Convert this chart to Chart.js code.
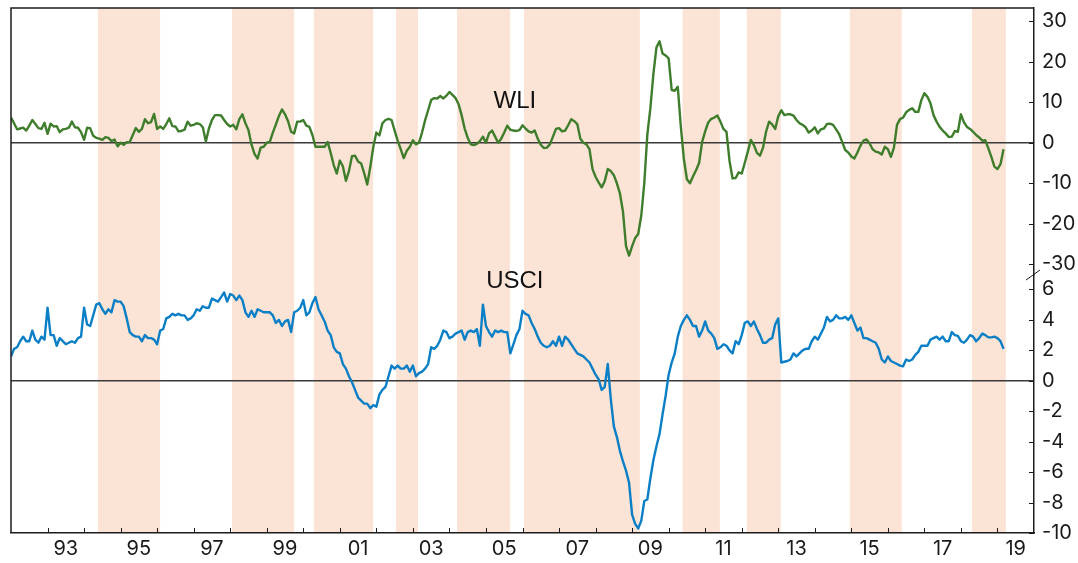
<!DOCTYPE html>
<html>
<head>
<meta charset="utf-8">
<title>WLI and USCI</title>
<script src="https://cdn.jsdelivr.net/npm/chart.js@4/dist/chart.umd.min.js"></script>
<style>
  html, body { margin: 0; padding: 0; background: #fff; }
  #wrap { width: 1078px; height: 563px; }
</style>
</head>
<body>
<div id="wrap"><canvas id="chart" width="1078" height="563"></canvas></div>
<script>
// monthly series, first value = Jan 1992
const startYear = 1992;

const wliValues = [
  6.2, 4.8, 3.3, 3.5, 3.7, 3.0, 4.2, 5.6, 4.6, 3.6, 3.4, 4.9,          // 1992
  2.2, 4.7, 4.0, 4.1, 2.6, 3.3, 3.4, 3.7, 5.2, 3.8, 3.7, 2.6,          // 1993
  0.7, 3.7, 3.6, 1.7, 1.2, 1.0, 0.7, 1.4, 1.2, 0.4, 0.8, -0.9,         // 1994
  0.0, -0.5, 0.1, 0.2, 1.9, 3.6, 2.7, 3.4, 5.8, 4.8, 5.1, 7.1,         // 1995
  3.4, 4.0, 3.4, 4.6, 6.0, 4.1, 4.0, 2.8, 2.9, 3.2, 5.2, 4.2,          // 1996
  4.4, 4.8, 4.6, 3.8, 0.3, 3.5, 5.6, 6.8, 6.8, 6.7, 5.6, 4.6,          // 1997
  4.0, 4.4, 3.3, 5.8, 7.0, 4.8, 3.1, -0.5, -2.8, -3.9, -1.2, -1.0,     // 1998
  0.0, 0.2, 2.5, 4.5, 6.6, 8.2, 7.0, 5.3, 2.7, 2.3, 5.2, 5.2,          // 1999
  5.6, 4.2, 3.9, 1.9, -1.0, -1.0, -1.0, -1.0, 0.2, -2.5, -5.5, -7.6,   // 2000
  -4.4, -5.8, -9.4, -7.0, -3.3, -3.2, -4.6, -5.1, -7.5, -10.3, -6.0, -1.0, // 2001
  2.5, 1.8, 4.8, 5.6, 5.9, 5.6, 3.0, 0.5, -1.6, -3.8, -2.0, -1.0,      // 2002
  0.6, -0.4, 0.0, 2.5, 5.5, 8.0, 10.5, 11.0, 10.9, 11.5, 10.9, 11.6,   // 2003
  12.5, 11.8, 11.0, 9.5, 6.8, 3.5, 1.2, -0.4, -0.6, -0.3, 0.4, 1.5,    // 2004
  0.0, 2.3, 3.0, 1.5, 0.0, 1.0, 2.5, 4.2, 3.2, 3.0, 2.9, 3.1,          // 2005
  4.3, 3.5, 2.8, 2.5, 3.0, 1.0, -0.5, -1.3, -1.2, -0.4, 1.5, 3.4,      // 2006
  3.6, 2.8, 3.0, 4.3, 5.8, 5.3, 4.6, 1.0, 0.0, -0.4, -1.6, -6.5,       // 2007
  -8.4, -9.8, -11.0, -9.5, -6.5, -7.0, -8.0, -10.0, -12.5, -17.0, -25.5, -27.8, // 2008
  -25.5, -23.5, -22.5, -18.0, -10.0, 2.0, 8.5, 17.0, 23.5, 25.0, 22.0, 21.5,    // 2009
  20.8, 13.0, 12.8, 13.8, 4.0, -4.0, -9.0, -10.0, -8.3, -6.8, -5.0, 0.2,        // 2010
  2.8, 5.0, 5.9, 6.2, 6.7, 5.2, 3.4, 2.7, -4.5, -8.8, -8.7, -7.3,      // 2011
  -7.6, -5.0, -2.2, 0.7, -0.6, -2.5, -3.2, -1.2, 2.7, 5.2, 4.5, 3.4,   // 2012
  6.5, 8.0, 6.8, 7.0, 7.0, 6.7, 5.6, 4.8, 4.4, 3.8, 2.5, 3.0,          // 2013
  3.8, 2.3, 3.3, 3.5, 4.6, 4.7, 4.4, 3.3, 2.1, 0.2, -1.8, -2.4,        // 2014
  -3.4, -3.9, -2.4, -0.7, 0.5, 0.8, -0.2, -1.6, -2.2, -2.4, -2.9, -1.0, // 2015
  -1.6, -3.5, -1.2, 4.4, 5.8, 6.2, 7.5, 8.1, 8.5, 7.6, 7.6, 10.5,      // 2016
  12.2, 11.3, 9.7, 6.8, 5.2, 3.9, 3.0, 2.3, 1.4, 1.5, 2.9, 2.7,        // 2017
  7.0, 5.0, 3.9, 3.4, 2.7, 1.9, 1.3, 0.5, 0.6, -1.4, -3.5, -5.9,       // 2018
  -6.5, -5.3, -1.6                                                     // 2019
];

const usciValues = [
  1.6, 2.1, 2.2, 2.6, 2.9, 2.6, 2.6, 3.3, 2.7, 2.5, 2.9, 2.7,          // 1992
  4.8, 3.0, 3.0, 2.3, 2.8, 2.6, 2.4, 2.5, 2.6, 2.5, 2.8, 2.9,          // 1993
  4.8, 3.7, 3.6, 4.3, 5.0, 5.1, 4.7, 4.4, 4.7, 4.5, 5.3, 5.2,          // 1994
  5.2, 4.9, 4.1, 3.2, 3.0, 2.9, 2.9, 2.6, 3.0, 2.8, 2.8, 2.7,          // 1995
  2.4, 3.3, 3.4, 4.1, 4.2, 4.4, 4.3, 4.4, 4.3, 4.3, 4.0, 4.1,          // 1996
  4.3, 4.7, 4.6, 4.9, 4.8, 4.8, 5.4, 5.3, 5.2, 5.5, 5.8, 5.2,          // 1997
  5.7, 5.6, 5.3, 5.6, 5.3, 4.5, 4.2, 4.6, 4.2, 4.7, 4.6, 4.5,          // 1998
  4.5, 4.5, 4.3, 3.8, 4.0, 3.6, 3.9, 4.0, 3.2, 4.5, 4.6, 4.8,          // 1999
  5.3, 4.3, 4.5, 5.1, 5.5, 4.7, 4.3, 3.9, 3.3, 3.0, 2.2, 1.9,          // 2000
  1.8, 1.1, 0.8, 0.3, -0.1, -0.6, -1.1, -1.3, -1.5, -1.5, -1.8, -1.6,  // 2001
  -1.7, -0.9, -0.6, -0.4, 0.3, 1.0, 0.8, 1.0, 0.8, 0.8, 1.0, 0.6,      // 2002
  1.0, 0.3, 0.5, 0.6, 0.8, 1.1, 2.2, 2.1, 2.3, 2.7, 3.3, 3.2,          // 2003
  2.8, 2.9, 3.1, 3.2, 3.3, 2.7, 3.2, 3.3, 3.2, 3.4, 2.3, 5.0,          // 2004
  3.6, 3.2, 2.9, 3.3, 3.2, 3.3, 3.2, 3.2, 1.8, 2.4, 3.0, 3.4,          // 2005
  4.6, 4.4, 4.3, 3.8, 3.4, 2.9, 2.5, 2.3, 2.2, 2.3, 2.6, 2.3,          // 2006
  2.9, 2.3, 2.9, 2.7, 2.4, 2.1, 1.8, 1.7, 1.6, 1.4, 1.2, 0.8,          // 2007
  0.4, 0.1, -0.6, -0.4, 1.1, -1.2, -3.0, -3.7, -4.6, -5.3, -5.9, -6.7, // 2008
  -8.8, -9.4, -9.7, -9.2, -7.9, -7.8, -6.4, -5.2, -4.3, -3.5, -2.2, -1.0, // 2009
  0.4, 1.2, 1.8, 2.9, 3.6, 4.0, 4.3, 4.0, 3.6, 3.6, 2.9, 3.3,          // 2010
  3.9, 3.3, 3.1, 2.8, 2.1, 2.2, 2.4, 2.3, 2.0, 1.8, 2.6, 2.4,          // 2011
  3.0, 3.8, 3.9, 3.6, 3.9, 3.4, 3.0, 2.5, 2.5, 2.7, 2.8, 3.7,          // 2012
  4.1, 1.2, 1.25, 1.3, 1.4, 1.8, 1.6, 1.8, 2.0, 2.1, 2.1, 2.6,         // 2013
  2.9, 2.7, 3.1, 3.5, 4.2, 3.9, 4.0, 4.3, 4.1, 4.1, 4.2, 4.0,          // 2014
  4.3, 3.8, 3.3, 3.5, 2.8, 2.8, 2.7, 2.6, 2.5, 2.1, 1.4, 1.2,          // 2015
  1.6, 1.3, 1.2, 1.1, 1.0, 0.95, 1.4, 1.3, 1.4, 1.7, 1.9, 2.3,         // 2016
  2.3, 2.3, 2.7, 2.8, 2.9, 2.7, 2.9, 2.6, 2.6, 3.2, 3.0, 2.95,         // 2017
  2.6, 2.5, 2.7, 3.0, 2.9, 2.6, 2.8, 3.1, 3.0, 2.85, 2.85, 2.9,        // 2018
  2.8, 2.6, 2.1                                                        // 2019
];

// shaded periods, in years
const bands = [
  [1994.38, 1996.08], [1998.05, 1999.75], [2000.29, 2001.91], [2002.54, 2003.14],
  [2004.21, 2005.66], [2006.04, 2009.21], [2010.38, 2011.40], [2012.14, 2013.07],
  [2014.96, 2016.38], [2018.30, 2019.23]
];

const yearTicks = [1993, 1994, 1995, 1996, 1997, 1998, 1999, 2000, 2001, 2002, 2003, 2004, 2005,
  2006, 2007, 2008, 2009, 2010, 2011, 2012, 2013, 2014, 2015, 2016, 2017, 2018, 2019];
const labelYears = [1993, 1995, 1997, 1999, 2001, 2003, 2005, 2007, 2009, 2011, 2013, 2015, 2017, 2019];
const xLabels = ['93', '95', '97', '99', '01', '03', '05', '07', '09', '11', '13', '15', '17', '19'];
const wliTicks = [30, 20, 10, 0, -10, -20, -30];
const usciTicks = [6, 4, 2, 0, -2, -4, -6, -8, -10];

const GREEN = '#3e7d2b';
const BLUE = '#0b7fc6';
const BAND = '#fbe3d5';
const INK = '#1c1c1c';

const toPoints = vals => vals.map((v, i) => ({ x: startYear + i / 12, y: v }));

const zeroLine = ctx => ctx.tick && ctx.tick.value === 0 ? '#3a3a3a' : 'rgba(0,0,0,0)';

// keep the plot box where the page puts it, labels may hang over
const noEdgePadding = s => {
    s.paddingTop = 0;
    s.paddingBottom = 0;
    s.paddingLeft = 0;
    s.paddingRight = 0;
};

const decor = {
    id: 'decor',
    beforeDraw(chart) {
        const { ctx, chartArea: a, scales: { x } } = chart;
        ctx.save();
        ctx.fillStyle = BAND;
        bands.forEach(([s, e]) => {
            const x0 = x.getPixelForValue(s);
            const x1 = x.getPixelForValue(e);
            ctx.fillRect(x0, a.top, x1 - x0, a.bottom - a.top);
        });
        ctx.restore();
    },
    afterDraw(chart) {
        const { ctx, chartArea: a, scales: { x, yW, yU } } = chart;
        ctx.save();
        ctx.strokeStyle = INK;
        ctx.lineWidth = 1.5;

        // left and top frame
        ctx.beginPath();
        ctx.moveTo(a.left, a.bottom);
        ctx.lineTo(a.left, a.top);
        ctx.lineTo(a.right, a.top);
        ctx.stroke();

        // inward tick marks
        ctx.lineWidth = 1;
        ctx.beginPath();
        yearTicks.forEach(yr => {
            const px = Math.round(x.getPixelForValue(yr)) + 0.5;
            ctx.moveTo(px, a.bottom);
            ctx.lineTo(px, a.bottom - 5);
        });
        [yW, yU].forEach(s => s.ticks.forEach(t => {
            const py = Math.round(s.getPixelForValue(t.value)) + 0.5;
            ctx.moveTo(a.right, py);
            ctx.lineTo(a.right - 5, py);
        }));
        ctx.stroke();

        // axis break mark
        const yb = yU.top;
        ctx.beginPath();
        ctx.moveTo(a.right - 8, yb + 5);
        ctx.lineTo(a.right + 6, yb - 5);
        ctx.stroke();

        // series names
        ctx.font = '24px "Liberation Sans", Arial, sans-serif';
        ctx.fillStyle = '#111';
        ctx.textAlign = 'center';
        ctx.textBaseline = 'middle';
        ctx.fillText('WLI', x.getPixelForValue(2005.79), yW.getPixelForValue(10.3));
        ctx.fillText('USCI', x.getPixelForValue(2005.79), yU.getPixelForValue(6.5));
        ctx.restore();
    }
};

const tickFont = { family: 'Inter, Lato, sans-serif', size: 20 };

new Chart(document.getElementById('chart'), {
    type: 'line',
    data: {
        datasets: [
            {
                label: 'WLI',
                data: toPoints(wliValues),
                yAxisID: 'yW',
                borderColor: GREEN,
                borderWidth: 2.4,
                pointRadius: 0,
                tension: 0,
                borderJoinStyle: 'round'
            },
            {
                label: 'USCI',
                data: toPoints(usciValues),
                yAxisID: 'yU',
                borderColor: BLUE,
                borderWidth: 2.4,
                pointRadius: 0,
                tension: 0,
                borderJoinStyle: 'round'
            }
        ]
    },
    options: {
        responsive: false,
        animation: false,
        layout: { padding: { left: 11, top: 8, right: 0, bottom: 0 } },
        plugins: { legend: { display: false }, tooltip: { enabled: false } },
        scales: {
            x: {
                type: 'linear',
                position: 'bottom',
                min: 1992,
                max: 2020,
                afterBuildTicks: s => { s.ticks = labelYears.map(v => ({ value: v + 0.5 })); },
                afterFit: s => { s.height = 30; noEdgePadding(s); },
                ticks: {
                    autoSkip: false,
                    maxRotation: 0,
                    padding: 4,
                    color: '#1a1a1a',
                    font: tickFont,
                    callback: (v, i) => xLabels[i]
                },
                grid: { display: false, drawTicks: false },
                border: { display: true, color: INK, width: 1.5 }
            },
            yW: {
                type: 'linear',
                position: 'right',
                stack: 'panels',
                stackWeight: 267,
                min: -32.6,
                max: 33.2,
                afterBuildTicks: s => { s.ticks = wliTicks.map(v => ({ value: v })); },
                afterFit: s => { s.width = 44; noEdgePadding(s); },
                ticks: { autoSkip: false, padding: 8, color: '#1a1a1a', font: tickFont },
                grid: { color: zeroLine, lineWidth: 1.5, drawTicks: false },
                border: { display: true, color: INK, width: 1.5 }
            },
            yU: {
                type: 'linear',
                position: 'right',
                stack: 'panels',
                stackWeight: 258,
                min: -10,
                max: 6.95,
                afterBuildTicks: s => { s.ticks = usciTicks.map(v => ({ value: v })); },
                afterFit: s => { s.width = 44; noEdgePadding(s); },
                ticks: { autoSkip: false, padding: 8, color: '#1a1a1a', font: tickFont },
                grid: { color: zeroLine, lineWidth: 1.5, drawTicks: false },
                border: { display: true, color: INK, width: 1.5 }
            }
        }
    },
    plugins: [decor]
});
</script>
</body>
</html>
